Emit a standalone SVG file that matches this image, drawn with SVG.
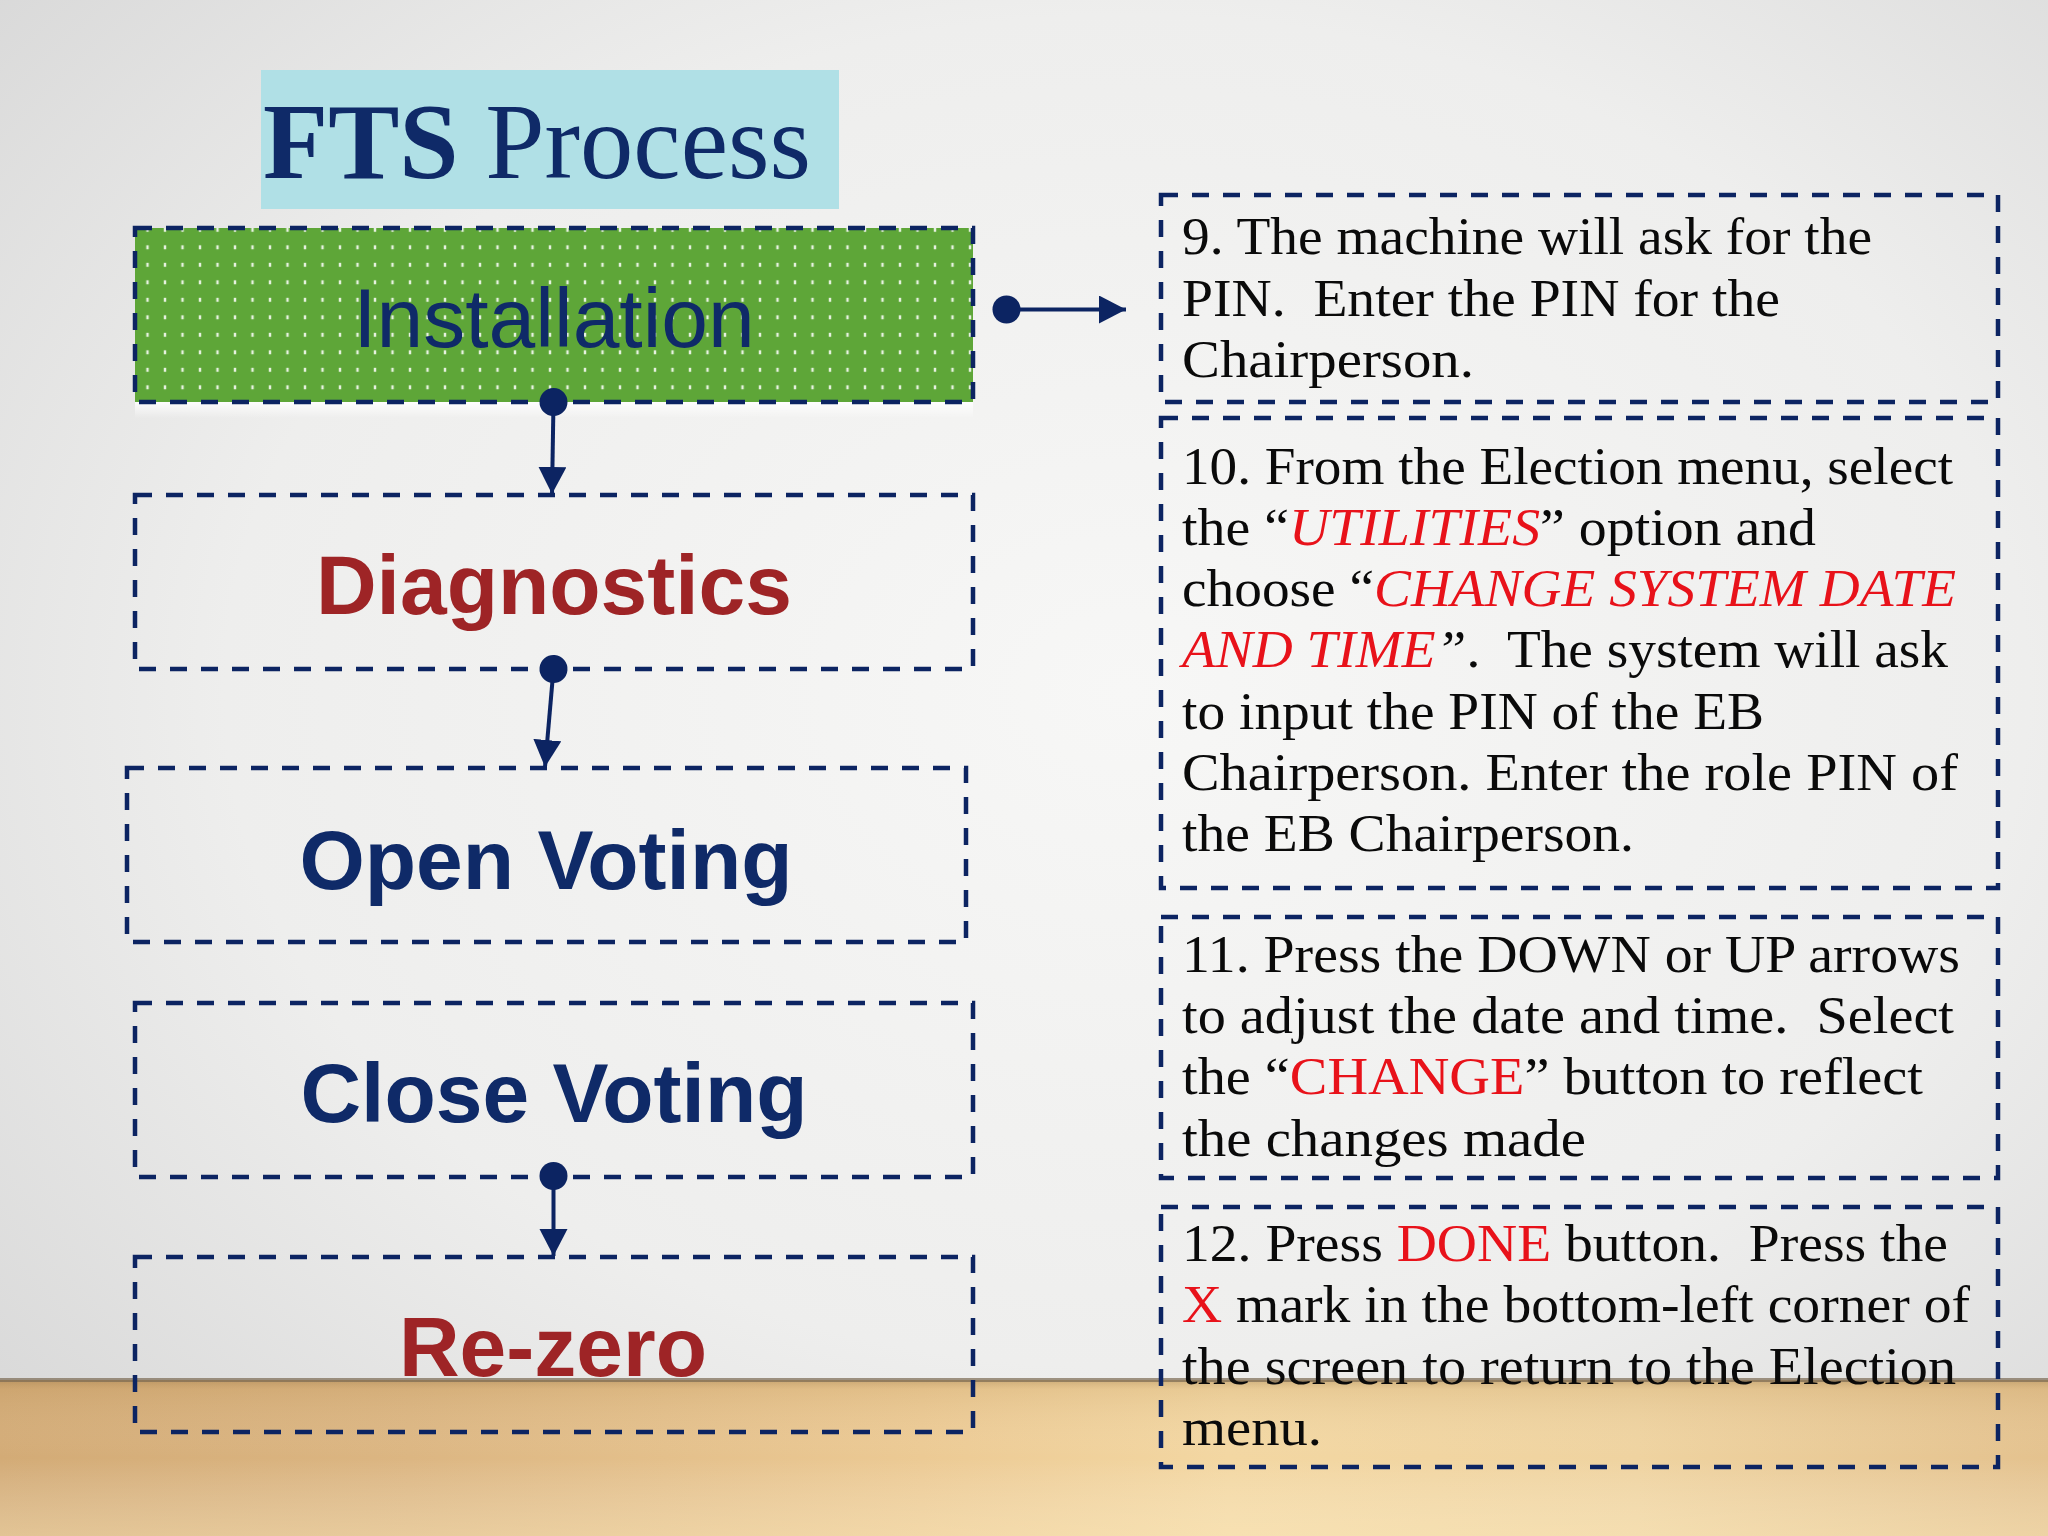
<svg xmlns="http://www.w3.org/2000/svg" width="2048" height="1536" viewBox="0 0 2048 1536">
<defs>
<radialGradient id="wall" cx="0.55" cy="0.45" r="0.8">
<stop offset="0" stop-color="#f7f7f6"/>
<stop offset="0.55" stop-color="#eeeeed"/>
<stop offset="1" stop-color="#d3d3d3"/>
</radialGradient>
<linearGradient id="floor" x1="0" y1="0" x2="1" y2="0">
<stop offset="0" stop-color="#d3ab76"/>
<stop offset="0.2" stop-color="#dcb682"/>
<stop offset="0.45" stop-color="#ecca94"/>
<stop offset="0.6" stop-color="#f3d7a2"/>
<stop offset="0.8" stop-color="#efd3a0"/>
<stop offset="1" stop-color="#e4c28e"/>
</linearGradient>
<linearGradient id="floorV" x1="0" y1="0" x2="0" y2="1">
<stop offset="0" stop-color="#8c6a3c" stop-opacity="0.35"/>
<stop offset="0.06" stop-color="#b08850" stop-opacity="0.15"/>
<stop offset="0.5" stop-color="#ffffff" stop-opacity="0"/>
<stop offset="1" stop-color="#fff2cc" stop-opacity="0.35"/>
</linearGradient>
<linearGradient id="glow" x1="0" y1="0" x2="0" y2="1">
<stop offset="0" stop-color="#ffffff" stop-opacity="0.9"/>
<stop offset="1" stop-color="#ffffff" stop-opacity="0"/>
</linearGradient>
<pattern id="dots" patternUnits="userSpaceOnUse" x="7.5" y="2.3" width="17.5" height="17.5">
<rect x="-1.2" y="-2" width="2.4" height="4" fill="#ffffff" opacity="0.85"/>
<rect x="16.3" y="-2" width="2.4" height="4" fill="#ffffff" opacity="0.85"/>
<rect x="-1.2" y="15.5" width="2.4" height="4" fill="#ffffff" opacity="0.85"/>
<rect x="16.3" y="15.5" width="2.4" height="4" fill="#ffffff" opacity="0.85"/>
</pattern>
<marker id="arrow" markerUnits="userSpaceOnUse" markerWidth="30" markerHeight="30" refX="27" refY="14" orient="auto">
<path d="M0,0 L27,14 L0,28 Z" fill="#0c2462"/>
</marker>
<marker id="dot" markerUnits="userSpaceOnUse" markerWidth="30" markerHeight="30" refX="15" refY="15" orient="auto">
<circle cx="15" cy="15" r="14" fill="#0c2462"/>
</marker>
<style>
.box{fill:none;stroke:#0c2462;stroke-width:4.5;stroke-dasharray:17 14}
.lbl{font-family:"Liberation Sans",Arial,sans-serif;font-size:84px;text-anchor:middle}
.navy{fill:#0f2a68}
.red{fill:#9e2426}
.body{font-family:"Liberation Serif","Times New Roman",serif;font-size:52px;fill:#0a0a0a}
.hl{fill:#e8121a}
.it{font-style:italic}
.conn{stroke:#0c2462;stroke-width:4;fill:none;marker-start:url(#dot);marker-end:url(#arrow)}
</style>
</defs>

<!-- background -->
<rect x="0" y="0" width="2048" height="1536" fill="url(#wall)"/>
<rect x="0" y="1380" width="2048" height="156" fill="url(#floor)"/>
<rect x="0" y="1380" width="2048" height="156" fill="url(#floorV)"/>
<rect x="0" y="1378" width="2048" height="4" fill="#7a6a52" opacity="0.7"/>

<!-- title -->
<g id="title">
<rect x="261" y="70" width="578" height="139" fill="#b0e0e6"/>
<text x="263" y="178" font-family="'Liberation Serif','Times New Roman',serif" font-size="108" fill="#0f2a68" textLength="548" lengthAdjust="spacingAndGlyphs"><tspan font-weight="bold">FTS</tspan> Process</text>
</g>

<!-- left nodes -->
<g id="installation">
<rect x="135" y="402" width="838" height="16" fill="url(#glow)"/>
<rect x="135" y="228" width="838" height="174" fill="#5ea638"/>
<rect x="135" y="228" width="838" height="174" fill="url(#dots)"/>
<rect x="135" y="228" width="838" height="174" class="box"/>
<text x="554" y="347" class="lbl navy">Installation</text>
</g>
<g id="diagnostics">
<rect x="135" y="495" width="838" height="174" class="box"/>
<text x="554" y="614" class="lbl red" font-weight="bold">Diagnostics</text>
</g>
<g id="open-voting">
<rect x="127" y="768" width="839" height="174" class="box"/>
<text x="546" y="889" class="lbl navy" font-weight="bold">Open Voting</text>
</g>
<g id="close-voting">
<rect x="135" y="1003" width="838" height="174" class="box"/>
<text x="554" y="1122" class="lbl navy" font-weight="bold">Close Voting</text>
</g>
<g id="re-zero">
<rect x="135" y="1257" width="838" height="175" class="box"/>
<text x="553" y="1376" class="lbl red" font-weight="bold">Re-zero</text>
</g>

<!-- right nodes -->
<g id="step9">
<rect x="1161" y="195" width="837" height="207" class="box"/>
<text class="body" x="1182" y="254" textLength="690" lengthAdjust="spacingAndGlyphs">9. The machine will ask for the</text>
<text class="body" x="1182" y="316" textLength="598" lengthAdjust="spacingAndGlyphs" xml:space="preserve">PIN.  Enter the PIN for the</text>
<text class="body" x="1182" y="377" textLength="292" lengthAdjust="spacingAndGlyphs">Chairperson.</text>
</g>
<g id="step10">
<rect x="1161" y="418" width="837" height="470" class="box"/>
<text class="body" x="1182" y="484" textLength="771" lengthAdjust="spacingAndGlyphs">10. From the Election menu, select</text>
<text class="body" x="1182" y="545" textLength="634" lengthAdjust="spacingAndGlyphs">the “<tspan class="hl it">UTILITIES</tspan>” option and</text>
<text class="body" x="1182" y="606" textLength="774" lengthAdjust="spacingAndGlyphs">choose “<tspan class="hl it">CHANGE SYSTEM DATE</tspan></text>
<text class="body" x="1182" y="667" textLength="766" lengthAdjust="spacingAndGlyphs" xml:space="preserve"><tspan class="hl it">AND TIME</tspan><tspan class="it">”</tspan>.  The system will ask</text>
<text class="body" x="1182" y="729" textLength="582" lengthAdjust="spacingAndGlyphs">to input the PIN of the EB</text>
<text class="body" x="1182" y="790" textLength="776" lengthAdjust="spacingAndGlyphs">Chairperson. Enter the role PIN of</text>
<text class="body" x="1182" y="851" textLength="452" lengthAdjust="spacingAndGlyphs">the EB Chairperson.</text>
</g>
<g id="step11">
<rect x="1161" y="917" width="837" height="261" class="box"/>
<text class="body" x="1182" y="972" textLength="778" lengthAdjust="spacingAndGlyphs">11. Press the DOWN or UP arrows</text>
<text class="body" x="1182" y="1033" textLength="772" lengthAdjust="spacingAndGlyphs" xml:space="preserve">to adjust the date and time.  Select</text>
<text class="body" x="1182" y="1094" textLength="741" lengthAdjust="spacingAndGlyphs">the “<tspan class="hl">CHANGE</tspan>” button to reflect</text>
<text class="body" x="1182" y="1156" textLength="404" lengthAdjust="spacingAndGlyphs">the changes made</text>
</g>
<g id="step12">
<rect x="1161" y="1207" width="837" height="260" class="box"/>
<text class="body" x="1182" y="1261" textLength="766" lengthAdjust="spacingAndGlyphs" xml:space="preserve">12. Press <tspan class="hl">DONE</tspan> button.  Press the</text>
<text class="body" x="1182" y="1322" textLength="788" lengthAdjust="spacingAndGlyphs"><tspan class="hl">X</tspan> mark in the bottom-left corner of</text>
<text class="body" x="1182" y="1384" textLength="774" lengthAdjust="spacingAndGlyphs">the screen to return to the Election</text>
<text class="body" x="1182" y="1445" textLength="140" lengthAdjust="spacingAndGlyphs">menu.</text>
</g>

<!-- connectors -->
<g id="connectors">
<line class="conn" x1="1006.5" y1="309.5" x2="1126" y2="309.5"/>
<line class="conn" x1="553.5" y1="402" x2="552" y2="494"/>
<line class="conn" x1="553.5" y1="669" x2="545" y2="767"/>
<line class="conn" x1="553.5" y1="1176" x2="553.5" y2="1256"/>
</g>
</svg>
